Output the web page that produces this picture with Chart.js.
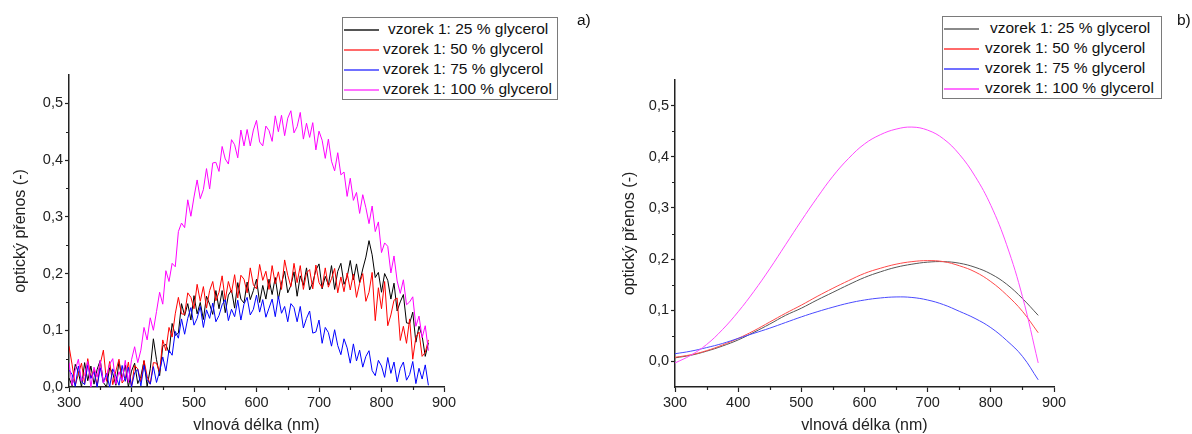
<!DOCTYPE html>
<html lang="cs">
<head>
<meta charset="utf-8">
<title>Optický přenos – vzorek 1</title>
<script src="https://cdn.jsdelivr.net/npm/chart.js@4.4.0/dist/chart.umd.min.js"></script>
<style>
    body { margin: 0; background: #fff; font-family: "Liberation Sans", Arial, sans-serif; color: #111; }
    #page { position: relative; width: 1192px; height: 434px; overflow: hidden; }
    canvas { position: absolute; top: 0; }
    .legend { position: absolute; box-sizing: border-box; border: 1px solid #7a7a7a; padding-top: 1px; background: #fff; }
    .legend .row { position: relative; height: 20px; line-height: 20px; font-size: 15.5px; white-space: nowrap; }
    .legend .swatch { position: absolute; left: 1px; top: 10px; width: 35px; }
    .legend .lbl { position: absolute; top: 0; }
    .panel-tag { position: absolute; top: 11px; font-size: 15.5px; }
</style>
</head>
<body>
<div id="page">
    <canvas id="chartA" width="600" height="434" style="left:0"></canvas>
    <canvas id="chartB" width="592" height="434" style="left:600px"></canvas>
    <div class="legend" id="legendA" style="left:342px;top:17px;width:216px;height:83px"></div>
    <div class="legend" id="legendB" style="left:942px;top:16px;width:220px;height:83px"></div>
    <div class="panel-tag" style="left:577px">a)</div>
    <div class="panel-tag" style="left:1177px">b)</div>
</div>
<script>
// ── Data ─────────────────────────────────────────────────────
const seriesNames = [
    "vzorek 1: 25 % glycerol",
    "vzorek 1: 50 % glycerol",
    "vzorek 1: 75 % glycerol",
    "vzorek 1: 100 % glycerol",
];

const xTickValues = [300, 400, 500, 600, 700, 800, 900];
const xMinorTicks = [350, 450, 550, 650, 750, 850];
const yTickValues = [0, 0.1, 0.2, 0.3, 0.4, 0.5];
const yMinorTicks = [0.05, 0.15, 0.25, 0.35, 0.45];

// a) measured spectra (nm)
const wavelengthsA = [
    300, 305, 310, 315, 320, 325, 330, 335, 340, 345,
    350, 355, 360, 365, 370, 375, 380, 385, 390, 395,
    400, 405, 410, 415, 420, 425, 430, 435, 440, 445,
    450, 455, 460, 465, 470, 475, 480, 485, 490, 495,
    500, 505, 510, 515, 520, 525, 530, 535, 540, 545,
    550, 555, 560, 565, 570, 575, 580, 585, 590, 595,
    600, 605, 610, 615, 620, 625, 630, 635, 640, 645,
    650, 655, 660, 665, 670, 675, 680, 685, 690, 695,
    700, 705, 710, 715, 720, 725, 730, 735, 740, 745,
    750, 755, 760, 765, 770, 775, 780, 785, 790, 795,
    800, 805, 810, 815, 820, 825, 830, 835, 840, 845,
    850, 855, 860, 865, 870, 875,
];
const transA25 = [
    .016, .002, .040, .026, 0, .043, .011, .037, .005, .031,
    .047, .008, 0, .034, .024, .003, .045, .014, .039, 0,
    .028, .042, .006, .019, .046, .001, .032, .085, .048, .020,
    .072, .075, .060, .112, .091, .095, .147, .126, .147, .118,
    .161, .129, .149, .119, .160, .146, .128, .170, .138, .170,
    .131, .162, .171, .139, .184, .155, .148, .185, .154, .170,
    .190, .149, .179, .155, .190, .163, .193, .155, .183, .204,
    .166, .179, .203, .160, .196, .179, .210, .171, .184, .206,
    .217, .173, .195, .180, .214, .172, .204, .218, .181, .194,
    .223, .189, .217, .184, .208, .229, .258, .233, .193, .202,
    .167, .200, .188, .155, .183, .134, .150, .163, .113, .112,
    .132, .079, .107, .090, .054, .078,
];
const transA50 = [
    .072, .039, .003, .023, .042, .006, .050, .016, .031, .002,
    .041, .065, .010, .045, .004, .028, .049, .007, .015, .044,
    0, .038, .032, .009, .047, .019, .005, .043, .042, .026,
    .083, .064, .105, .088, .129, .158, .129, .128, .166, .158,
    .138, .181, .151, .177, .139, .170, .186, .152, .167, .196,
    .153, .186, .166, .198, .157, .197, .190, .166, .210, .180,
    .173, .216, .188, .204, .172, .214, .182, .203, .172, .224,
    .197, .177, .218, .184, .214, .172, .201, .207, .173, .215,
    .184, .175, .210, .176, .191, .209, .166, .194, .168, .201,
    .171, .199, .158, .183, .200, .151, .167, .202, .117, .175,
    .138, .186, .108, .127, .153, .157, .082, .107, .077, .120,
    .049, .088, .097, .054, .061, .083,
];
const transA75 = [
    .030, .022, .001, .037, .010, .004, .039, .015, .027, 0,
    .034, .007, .024, 0, .032, .019, .003, .038, .010, .035,
    0, .025, .031, .002, .038, .013, .005, .036, .008, .028,
    .053, .028, .065, .056, .098, .086, .120, .093, .121, .140,
    .109, .121, .142, .105, .136, .121, .148, .115, .126, .145,
    .154, .117, .137, .124, .153, .118, .146, .158, .127, .137,
    .162, .132, .154, .123, .139, .155, .124, .160, .130, .142,
    .115, .147, .140, .115, .142, .104, .121, .134, .095, .097,
    .118, .077, .105, .096, .072, .101, .073, .057, .085, .069,
    .042, .076, .046, .065, .035, .054, .064, .029, .020, .047,
    .037, .017, .052, .024, .044, .009, .033, .044, .012, .022,
    .045, .006, .033, .014, .039, .003,
];
const transA100 = [
    .043, .003, .030, .049, .010, .022, .045, 0, .035, .017,
    .047, .007, .019, .040, .050, .005, .027, .011, .047, .008,
    .048, .071, .043, .065, .105, .083, .122, .100, .133, .167,
    .146, .205, .186, .218, .212, .274, .289, .281, .330, .301,
    .335, .365, .332, .348, .385, .349, .395, .396, .380, .424,
    .402, .393, .436, .427, .404, .453, .425, .454, .425, .453,
    .470, .432, .425, .460, .452, .433, .478, .450, .479, .443,
    .474, .487, .448, .459, .484, .437, .465, .440, .466, .418,
    .451, .435, .403, .437, .398, .381, .413, .374, .379, .336,
    .368, .329, .343, .306, .339, .316, .288, .319, .274, .291,
    .237, .254, .248, .201, .231, .187, .165, .189, .145, .150,
    .159, .107, .125, .087, .108, .064,
];

// b) fitted curves (nm)
const wavelengthsB = [300, 325, 350, 375, 400, 425, 450, 475, 500, 525, 550, 575,
                      600, 625, 650, 675, 700, 725, 750, 775, 800, 825, 850, 875];
const fitB25  = [.007, .012, .02, .03, .042, .057, .073, .09, .104, .12, .135, .15,
                 .164, .175, .184, .19, .194, .195, .192, .184, .171, .151, .123, .09];
const fitB50  = [.008, .013, .021, .032, .045, .06, .077, .094, .11, .127, .143, .158,
                 .172, .182, .19, .195, .197, .195, .187, .175, .156, .13, .098, .056];
const fitB75  = [.015, .02, .027, .035, .045, .055, .065, .076, .087, .097, .106, .114,
                 .12, .124, .126, .125, .12, .111, .098, .084, .066, .041, .01, -.036];
const fitB100 = [-.003, .012, .033, .062, .097, .137, .181, .228, .275, .32, .362, .397,
                 .425, .443, .454, .458, .452, .435, .405, .362, .305, .228, .127, -.003];

// ── Styles ───────────────────────────────────────────────────
const FONT = "'Liberation Sans', Arial, sans-serif";
const AXIS = "#222";
const lineColorsA = ["#000000", "#ff0000", "#0000ff", "#ff00ff"];
const lineColorsB = ["#555555", "#ff4a4a", "#4a4aff", "#ff4aff"];

Chart.defaults.font.family = FONT;
Chart.defaults.color = AXIS;

// ── Minor ticks ──────────────────────────────────────────────
const minorTicks = {
    id: "minorTicks",
    afterDraw(chart, args, opts) {
        const { ctx, chartArea: a, scales: { x, y } } = chart;
        ctx.save();
        ctx.strokeStyle = AXIS;
        ctx.lineWidth = 1.2;
        ctx.beginPath();
        opts.x.forEach(v => {
            const px = Math.round(x.getPixelForValue(v)) + 0.5;
            ctx.moveTo(px, a.bottom);
            ctx.lineTo(px, a.bottom + 3);
        });
        opts.y.forEach(v => {
            const py = Math.round(y.getPixelForValue(v)) + 0.5;
            ctx.moveTo(a.left - 3, py);
            ctx.lineTo(a.left, py);
        });
        ctx.stroke();
        ctx.restore();
    },
};

function fmtComma(v) {
    const n = Math.abs(v) < 1e-9 ? 0 : v;
    return n.toFixed(1).replace(".", ",");
}

function buildSeries(xs, lists, colors, tension) {
    return lists.map((ys, i) => ({
        label: seriesNames[i],
        data: ys.map((y, k) => ({ x: xs[k], y })),
        borderColor: colors[i],
        borderWidth: 1,
        pointRadius: 0,
        fill: false,
        tension,
        order: 4 - i,   // magenta on top, black at the bottom
    }));
}

function makeChart(canvasId, datasets, cfg) {
    const ctx = document.getElementById(canvasId).getContext("2d");
    return new Chart(ctx, {
        type: "line",
        data: { datasets },
        options: {
            responsive: false,
            animation: false,
            events: [],
            layout: { padding: { left: 0, top: cfg.top, right: cfg.right, bottom: 0 } },
            plugins: {
                legend: { display: false },
                tooltip: { enabled: false },
                minorTicks: { x: xMinorTicks, y: yMinorTicks },
            },
            scales: {
                x: {
                    type: "linear",
                    min: 300, max: 900,
                    afterBuildTicks: s => { s.ticks = xTickValues.map(v => ({ value: v })); },
                    afterFit: s => { s.height = 434 - 387; },
                    ticks: { padding: 2, autoSkip: false, maxRotation: 0, font: { size: 14.5 }, color: AXIS },
                    grid: { drawOnChartArea: false, drawTicks: true, tickLength: 5, tickColor: AXIS, tickWidth: 1.2 },
                    border: { display: true, color: AXIS, width: 1.5 },
                    title: { display: true, text: "vlnová délka (nm)", color: AXIS,
                             font: { size: 16, lineHeight: 1 }, padding: { top: 0, bottom: 0 } },
                },
                y: {
                    type: "linear",
                    min: cfg.yMin, max: 0.55,
                    afterBuildTicks: s => { s.ticks = yTickValues.map(v => ({ value: v })); },
                    afterFit: s => { s.width = cfg.left; },
                    ticks: { padding: 2, font: { size: 14.5 }, color: AXIS, callback: v => fmtComma(v) },
                    grid: { drawOnChartArea: false, drawTicks: true, tickLength: 4, tickColor: AXIS, tickWidth: 1.2 },
                    border: { display: true, color: AXIS, width: 1.5 },
                    title: { display: true, text: "optický přenos (-)", color: AXIS,
                             font: { size: 16, lineHeight: 1 }, padding: { top: cfg.titlePad, bottom: 0 } },
                },
            },
        },
        plugins: [minorTicks],
    });
}

// ── Legends ──────────────────────────────────────────────────
function buildLegend(id, colors, widths, textLeft) {
    const box = document.getElementById(id);
    seriesNames.forEach((name, i) => {
        const row = document.createElement("div");
        row.className = "row";
        const sw = document.createElement("div");
        sw.className = "swatch";
        sw.style.background = colors[i];
        sw.style.height = widths[i] + "px";
        const lbl = document.createElement("span");
        lbl.className = "lbl";
        lbl.style.left = (textLeft + (i === 0 ? 5 : 0)) + "px";
        lbl.textContent = name;
        row.appendChild(sw);
        row.appendChild(lbl);
        box.appendChild(row);
    });
}

document.addEventListener("DOMContentLoaded", () => {
    makeChart("chartA",
        buildSeries(wavelengthsA, [transA25, transA50, transA75, transA100], lineColorsA, 0),
        { left: 69, right: 600 - 444, top: 75, yMin: 0, titlePad: 13 });

    makeChart("chartB",
        buildSeries(wavelengthsB, [fitB25, fitB50, fitB75, fitB100], lineColorsB, 0.4),
        { left: 75, right: 592 - 454, top: 80, yMin: -0.05, titlePad: 22 });

    buildLegend("legendA", ["#555555", "#ff6a6a", "#7070ff", "#ff70ff"], [2, 2, 2, 2], 40);
    buildLegend("legendB", ["#8a8a8a", "#ff6a6a", "#7070ff", "#ff70ff"], [2, 2, 2, 2], 42);
});
</script>
</body>
</html>
